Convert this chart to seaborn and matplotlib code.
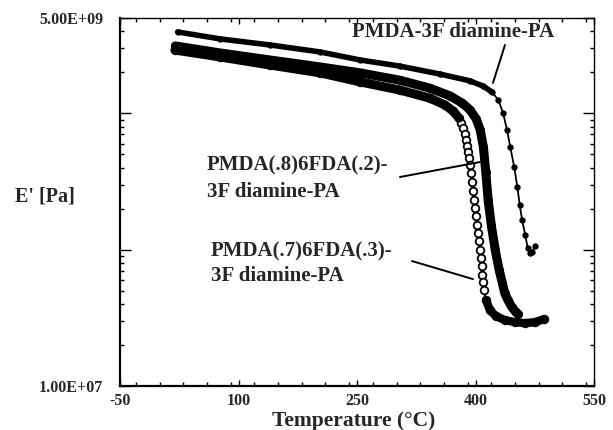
import numpy as np
import pandas as pd
import matplotlib
matplotlib.use("Agg")
import matplotlib.pyplot as plt
import seaborn as sns
from matplotlib.ticker import FixedLocator, FixedFormatter, LogLocator, MultipleLocator, NullFormatter

# ---------------- data ----------------
# PMDA-3F diamine-PA
a_temp = [23, 77, 140, 203, 254, 304, 355, 393, 410, 421, 429, 435, 440, 444,
          449, 453, 456, 459, 463, 466, 469, 472, 475]
a_mod = [3.95e9, 3.51e9, 3.17e9, 2.82e9, 2.46e9, 2.22e9, 1.94e9, 1.73e9, 1.58e9,
         1.43e9, 1.25e9, 1.00e9, 7.5e8, 5.66e8, 4.04e8, 2.88e8, 2.12e8, 1.65e8,
         1.28e8, 1.03e8, 9.44e7, 9.6e7, 1.06e8]

# PMDA(.8)6FDA(.2)-3F diamine-PA
b_temp = [20, 77, 140, 203, 254, 304, 342, 368, 383, 393, 401, 406, 410, 413,
          416, 420, 425, 430, 434, 437, 441, 446, 451, 454]
b_mod = [3.12e9, 2.77e9, 2.46e9, 2.19e9, 1.98e9, 1.75e9, 1.53e9, 1.34e9, 1.19e9,
         1.06e9, 9.08e8, 7.54e8, 5.66e8, 3.71e8, 2.31e8, 1.51e8, 9.93e7, 7.08e7,
         5.68e7, 4.80e7, 4.27e7, 3.79e7, 3.48e7, 3.37e7]

# PMDA(.7)6FDA(.3)-3F diamine-PA
c_temp = [19.6, 76.6, 139.9, 203.2, 253.8, 304.4, 342.4, 361.4, 371.5,
          379.1, 381.6, 384.2, 386.7, 388.0, 389.2, 390.5, 391.8, 393.0, 394.3,
          395.6, 396.8, 398.1, 399.4, 400.6, 401.9, 403.2, 404.4,
          405.7, 407.0, 407.6, 408.2, 409.5, 410.7, 413.3, 418.3, 425.9, 437.3,
          450.0, 462.6, 475.3, 486.7]
c_mod = [2.91e9, 2.59e9, 2.26e9, 1.98e9, 1.70e9, 1.48e9, 1.29e9, 1.15e9, 1.04e9,
         9.23e8, 8.49e8, 7.80e8, 7.05e8, 6.37e8, 5.75e8, 5.20e8, 4.70e8, 4.17e8,
         3.65e8, 3.13e8, 2.69e8, 2.31e8, 2.02e8, 1.76e8, 1.51e8, 1.32e8, 1.16e8,
         9.93e7, 8.68e7, 7.58e7, 6.51e7, 5.78e7, 5.05e7, 4.27e7, 3.60e7, 3.25e7,
         3.04e7, 2.94e7, 2.89e7, 2.94e7, 3.09e7]

x_ticks = [-50, 100, 250, 400, 550]
y_ticks = [1e7, 1e8, 1e9, 5e9]
y_tick_labels = ["1.00E+07", "", "", "5.00E+09"]

# ---------------- style ----------------
sns.set_style("ticks")
plt.rcParams['font.family'] = ['Liberation Serif', 'DejaVu Serif']
plt.rcParams['font.weight'] = 'bold'
plt.rcParams['axes.labelweight'] = 'bold'
plt.rcParams['axes.unicode_minus'] = False

W, H = 613, 430
fig = plt.figure(figsize=(W / 100, H / 100), dpi=100)
ax = fig.add_axes([120 / W, 1 - 386 / H, 474 / W, 368 / H])

dfa = pd.DataFrame({"T": a_temp, "E": a_mod})
dfb = pd.DataFrame({"T": b_temp, "E": b_mod})
dfc = pd.DataFrame({"T": c_temp, "E": c_mod})

# series C: open circles in the drop, dense (solid) elsewhere
sns.lineplot(data=dfc, x="T", y="E", ax=ax, sort=False, estimator=None,
             color="black", lw=1.5, marker="o", markersize=5.5,
             markerfacecolor="white", markeredgecolor="black", markeredgewidth=1.3)
plat_c = dfc[dfc["T"] < 381]
bot_c = dfc[dfc["E"] < 4.5e7]
ax.plot(plat_c["T"], plat_c["E"], color="black", lw=6.5, solid_capstyle="round",
        solid_joinstyle="round", zorder=3)
ax.plot(bot_c["T"], bot_c["E"], color="black", lw=6.0, solid_capstyle="round",
        solid_joinstyle="round", zorder=3)

# series B: filled dense markers
sns.lineplot(data=dfb, x="T", y="E", ax=ax, sort=False, estimator=None,
             color="black", lw=6.5, marker="o", markersize=6.5,
             markerfacecolor="black", markeredgecolor="black", markeredgewidth=0)
ax.lines[-1].set_solid_capstyle("round")
ax.lines[-1].set_solid_joinstyle("round")

# series A: small markers with line
sns.lineplot(data=dfa, x="T", y="E", ax=ax, sort=False, estimator=None,
             color="black", lw=1.3, marker="o", markersize=3.8,
             markerfacecolor="black", markeredgecolor="black")
plat_a = dfa[dfa["T"] < 425]
ax.plot(plat_a["T"], plat_a["E"], color="black", lw=4.0, solid_capstyle="round",
        solid_joinstyle="round", zorder=3)

# leader lines
ax.plot([437.3, 422.1], [3.17e9, 1.67e9], color="black", lw=1.4)
ax.plot([304.4, 405.7], [3.41e8, 4.39e8], color="black", lw=1.4)
ax.plot([319.6, 396.8], [8.25e7, 6.08e7], color="black", lw=1.4)

# axes / ticks
ax.set_yscale("log")
ax.set_xlim(-50, 550)
ax.set_ylim(1e7, 5e9)
ax.xaxis.set_major_locator(FixedLocator(x_ticks))
ax.xaxis.set_minor_locator(MultipleLocator(30))
ax.yaxis.set_major_locator(FixedLocator(y_ticks))
ax.yaxis.set_major_formatter(FixedFormatter(y_tick_labels))
ax.yaxis.set_minor_locator(LogLocator(base=10, subs=np.arange(2, 10)))
ax.yaxis.set_minor_formatter(NullFormatter())

ax.tick_params(axis="both", which="both", direction="in", top=True, right=True,
               color="black", width=1.0)
ax.tick_params(axis="x", which="major", length=4, pad=5, labelsize=11.5)
ax.tick_params(axis="x", which="minor", length=3)
ax.tick_params(axis="y", which="major", length=8, pad=12, labelsize=11.5)
ax.tick_params(axis="y", which="minor", length=3)
for lab in ax.get_xticklabels() + ax.get_yticklabels():
    lab.set_fontweight("bold")

for side in ["left", "bottom"]:
    ax.spines[side].set_linewidth(1.6)
for side in ["top", "right"]:
    ax.spines[side].set_linewidth(1.0)
for s in ax.spines.values():
    s.set_color("black")

ax.set_xlabel("Temperature (\u00b0C)", fontsize=15.5, fontweight="bold")
ax.xaxis.set_label_coords((354 - 120) / 474, (386 - 426) / 368)
ax.xaxis.label.set_va("baseline")
ax.set_ylabel("E' [Pa]", fontsize=14.5, fontweight="bold", rotation=0,
              ha="center", va="center")
ax.yaxis.set_label_coords((45 - 120) / 474, (386 - 197) / 368)

# annotations
def ftext(x, y, s):
    fig.text(x / W, 1 - y / H, s, fontsize=15, fontweight="bold",
             ha="left", va="center")

ftext(352, 32, "PMDA-3F diamine-PA")
ftext(207, 165, "PMDA(.8)6FDA(.2)-")
ftext(207, 192, "3F diamine-PA")
ftext(211, 251, "PMDA(.7)6FDA(.3)-")
ftext(211, 276, "3F diamine-PA")

fig.savefig("out.png", dpi=100, facecolor="white")
